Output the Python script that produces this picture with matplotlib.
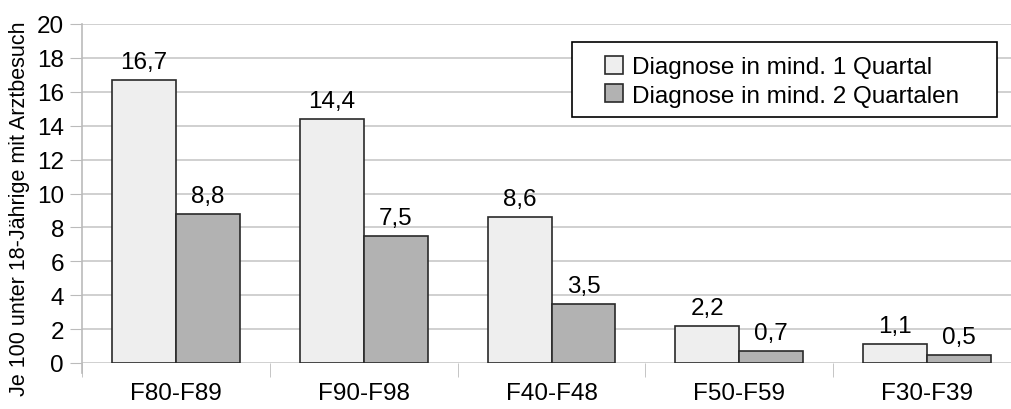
import numpy as np
import matplotlib.pyplot as plt
from matplotlib.patches import Rectangle

plt.rcParams['font.family'] = ['Liberation Sans', 'DejaVu Sans']

# Kategorien und Werte
kategorien = ['F80-F89', 'F90-F98', 'F40-F48', 'F50-F59', 'F30-F39']
mind_1_quartal = [16.7, 14.4, 8.6, 2.2, 1.1]
mind_2_quartale = [8.8, 7.5, 3.5, 0.7, 0.5]
serien_namen = ['Diagnose in mind. 1 Quartal', 'Diagnose in mind. 2 Quartalen']

W, H = 1011, 410
fs = 17.5
fig = plt.figure(figsize=(W / 100, H / 100), dpi=100)
# Achse reicht rechts etwas über das Bild hinaus (wie im Original abgeschnitten)
ax = fig.add_axes([82 / W, 1 - 364 / H, (1021 - 82) / W, (364 - 25) / H])

x = np.arange(len(kategorien))
b = 0.34
bars1 = ax.bar(x - b / 2, mind_1_quartal, b, color='#EEEEEE', edgecolor='#2A2A2A',
               linewidth=1.2, label=serien_namen[0], zorder=3)
bars2 = ax.bar(x + b / 2, mind_2_quartale, b, color='#B2B2B2', edgecolor='#2A2A2A',
               linewidth=1.2, label=serien_namen[1], zorder=3)

for bars in (bars1, bars2):
    for r in bars:
        ax.annotate(f'{r.get_height():.1f}'.replace('.', ','),
                    (r.get_x() + r.get_width() / 2, r.get_height()),
                    xytext=(0, 5), textcoords='offset points',
                    ha='center', va='bottom', fontsize=fs)

ax.set_xlim(-0.5, len(kategorien) - 0.5)
ax.set_ylim(0, 20)
ax.set_yticks(range(0, 21, 2))
ax.tick_params(axis='y', labelsize=fs, length=8.5, color='#BBBBBB', pad=4.5)
ax.yaxis.grid(True, color='#C8C8C8', linewidth=1.2, zorder=0)
ax.set_axisbelow(True)

ax.set_xticks(x)
ax.set_xticklabels(kategorien, fontsize=fs)
ax.tick_params(axis='x', length=0, pad=14)
ax.set_xticks(np.arange(-0.5, len(kategorien), 1), minor=True)
ax.tick_params(axis='x', which='minor', length=10, color='#BBBBBB')

for s in ('top', 'right', 'bottom'):
    ax.spines[s].set_visible(False)
ax.spines['left'].set_color('#BBBBBB')
ax.spines['left'].set_linewidth(1.2)
ax.spines['left'].set_bounds(-0.6, 20)

fig.text(20 / W, 1 - 209 / H, 'Je 100 unter 18-Jährige mit Arztbesuch',
         rotation=90, ha='center', va='center', fontsize=15.5)

# Legende ohne eigenen Rahmen, Rahmen separat (breiter als der Inhalt)
ax.add_patch(Rectangle((572 / W, 1 - 118 / H), (997 - 572) / W, (118 - 43) / H,
                       transform=fig.transFigure, facecolor='white',
                       edgecolor='black', linewidth=1.2, zorder=4, clip_on=False))
leg = ax.legend(loc='upper left', bbox_to_anchor=(605 / W, 1 - 57 / H),
                bbox_transform=fig.transFigure, fontsize=fs, frameon=False,
                handlelength=0.75, handleheight=0.75, handletextpad=0.35,
                borderpad=0, labelspacing=0.25, borderaxespad=0)
leg.set_zorder(5)

fig.savefig('out.png', dpi=100)
